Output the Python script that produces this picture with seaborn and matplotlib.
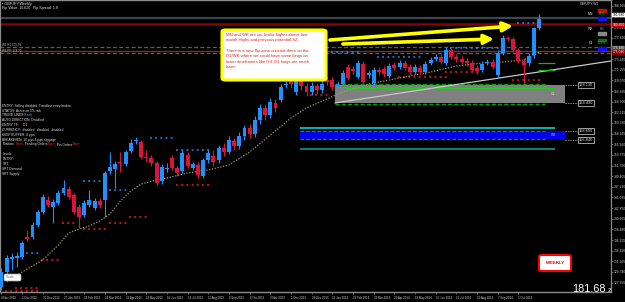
import numpy as np
import pandas as pd
import seaborn as sns
import matplotlib
matplotlib.use("Agg")
import matplotlib.pyplot as plt
from matplotlib.patches import Rectangle, FancyBboxPatch

# ---------------- data (GBPJPY weekly) ----------------
opens = [126.66, 129.74, 132.41, 132.61, 132.82, 136.92, 136.92, 139.39, 142.06, 144.52,
         143.08, 143.90, 145.96, 146.78, 145.55, 143.08, 141.44, 143.49, 142.88, 144.31,
         144.52, 150.47, 150.88, 152.32, 151.91, 154.58, 156.63, 156.43, 153.35, 153.14,
         152.12, 148.42, 150.88, 153.14, 151.09, 150.47, 153.76, 151.09, 151.71, 149.45,
         152.73, 153.55, 152.73, 155.20, 154.37, 156.63, 155.61, 157.66, 159.30, 158.07,
         160.94, 163.41, 161.97, 164.43, 165.05, 168.13, 168.75, 166.69, 169.16, 167.92,
         166.69, 167.92, 167.10, 169.16, 169.16, 168.13, 168.33, 171.82, 171.41, 169.77,
         172.44, 170.18, 168.54, 171.21, 171.41, 169.98, 172.24, 171.82, 172.65, 171.82,
         170.80, 171.62, 170.80, 172.65, 173.47, 173.88, 172.65, 175.31, 173.88, 173.47,
         173.06, 172.65, 171.62, 171.21, 172.65, 172.85, 170.18, 174.70, 177.78, 177.57,
         175.31, 173.06, 172.65, 174.29, 179.83]
highs = [130.56, 133.23, 133.64, 133.84, 136.10, 138.36, 140.00, 142.47, 145.75, 145.34,
         144.72, 146.57, 148.63, 147.39, 145.96, 143.70, 144.52, 146.57, 144.93, 144.93,
         150.47, 154.37, 152.53, 154.37, 154.78, 157.04, 157.45, 156.84, 154.78, 153.76,
         152.53, 151.91, 152.12, 153.76, 151.50, 154.78, 154.37, 152.32, 152.32, 153.14,
         154.78, 154.78, 155.81, 156.22, 157.66, 157.25, 158.48, 159.92, 160.12, 161.77,
         164.23, 164.23, 165.46, 165.26, 168.33, 168.95, 169.36, 169.77, 169.98, 168.54,
         168.75, 168.54, 169.16, 169.77, 169.77, 168.95, 171.21, 172.44, 172.03, 173.26,
         173.06, 171.21, 171.82, 171.82, 172.03, 172.65, 172.85, 173.26, 173.26, 172.44,
         172.44, 172.24, 173.06, 173.88, 174.49, 174.49, 175.93, 175.93, 174.49, 174.08,
         173.67, 173.26, 172.24, 173.06, 173.47, 173.47, 175.31, 178.39, 178.19, 177.98,
         175.73, 173.67, 174.70, 180.04, 182.71]
lows = [126.04, 129.12, 130.15, 130.76, 132.41, 136.10, 136.51, 138.98, 141.65, 143.08,
        139.80, 143.49, 145.55, 144.72, 141.65, 138.77, 141.03, 143.08, 142.47, 142.88,
        141.03, 149.86, 146.98, 150.27, 151.50, 154.17, 156.02, 152.94, 152.32, 151.50,
        147.60, 147.80, 150.27, 150.68, 149.45, 150.06, 151.09, 150.68, 149.04, 149.04,
        152.12, 151.50, 152.12, 153.55, 153.96, 154.78, 154.99, 156.84, 157.25, 157.45,
        160.12, 160.94, 161.35, 162.59, 164.64, 167.51, 167.51, 166.08, 167.10, 165.87,
        166.08, 166.28, 166.49, 168.13, 167.10, 167.51, 167.92, 169.16, 170.39, 169.36,
        168.33, 169.57, 168.13, 170.18, 169.77, 169.57, 171.21, 171.41, 171.21, 170.39,
        170.39, 170.39, 170.39, 172.24, 173.06, 172.44, 172.24, 173.47, 172.85, 172.44,
        172.03, 170.80, 170.39, 170.80, 172.24, 171.41, 169.57, 174.29, 177.16, 174.90,
        172.65, 168.54, 172.03, 173.67, 179.42]
closes = [129.74, 132.61, 132.82, 133.02, 135.69, 136.51, 139.39, 142.06, 145.14, 143.49,
          144.11, 145.96, 146.98, 145.14, 142.06, 141.03, 143.90, 144.52, 144.31, 143.49,
          150.06, 151.29, 151.91, 152.12, 154.37, 156.22, 156.84, 153.35, 153.14, 152.12,
          148.01, 151.29, 151.09, 151.09, 150.06, 154.17, 151.50, 151.91, 149.65, 152.73,
          154.17, 152.32, 155.20, 154.37, 156.84, 155.61, 157.66, 159.30, 158.07, 160.94,
          163.41, 161.97, 164.64, 163.41, 167.72, 168.33, 168.33, 169.16, 167.92, 166.69,
          167.92, 167.10, 168.33, 168.75, 167.72, 168.33, 170.59, 169.57, 171.00, 172.65,
          168.75, 170.59, 171.21, 170.80, 170.39, 172.03, 171.62, 172.65, 171.62, 170.80,
          171.82, 170.80, 172.44, 173.26, 173.88, 172.85, 175.31, 173.88, 173.47, 172.85,
          172.65, 171.21, 171.00, 172.44, 172.85, 171.82, 174.70, 177.78, 177.57, 175.31,
          173.06, 172.24, 174.08, 179.83, 181.68]

ma_idx = [1, 4, 8, 11, 13, 15, 17, 19, 21, 23, 25, 27, 30, 32, 36, 40, 44, 48, 52, 56,
          59, 62, 66, 71, 77, 83, 88, 93, 97, 101, 104]
ma_val = [127.68, 129.74, 132.20, 135.28, 137.75, 138.57, 139.18, 140.21, 141.65, 144.31,
          146.37, 147.80, 148.63, 149.04, 150.06, 150.68, 151.71, 154.37, 157.86, 161.35,
          163.41, 164.84, 166.69, 168.33, 169.57, 170.80, 172.03, 172.65, 172.85, 173.26, 174.90]

# support / resistance dotted marks: (start candle, end candle, price)
red_marks = [(1, 7, 125.80), (3, 7, 126.45), (8, 11, 132.20), (12, 14, 139.80), (16, 20, 138.57),
             (21, 24, 139.80), (25, 28, 141.03), (34, 40, 147.60), (60, 63, 166.08),
             (77, 86, 169.77), (86, 92, 170.80), (99, 104, 169.16)]
blue_marks = [(5, 7, 133.64), (16, 19, 148.42), (21, 24, 146.57), (29, 33, 157.25),
              (34, 40, 154.78), (64, 69, 174.90), (73, 81, 173.88), (87, 96, 175.73),
              (100, 103, 180.86)]

# horizontal levels across the chart
level_bid_dark = 181.90
level_red_main = 180.65
level_gray_dash = [175.93, 174.70]
level_red_thin = 175.01

# zones
gray_zone = (64.5, 109.0, 164.43, 168.13)
gray_zone_edges = [168.33, 164.23]
gray_zone_mid = 167.51
blue_zone = (57.7, 109.0, 157.04, 158.69)
cyan_level = 159.30
teal_level = 154.99
trend_pts = ((64.5, 164.43), (117.9, 173.06))
green_short = [172.65, 171.21]
zone_labels = [168.130, 164.430, 158.690, 156.840]

date_idx = list(range(0, 101, 4))
date_labels = ["4 Nov 2012", "2 Dec 2012", "30 Dec 2012", "27 Jan 2013", "24 Feb 2013",
               "24 Mar 2013", "21 Apr 2013", "19 May 2013", "16 Jun 2013", "14 Jul 2013",
               "11 Aug 2013", "8 Sep 2013", "6 Oct 2013", "3 Nov 2013", "1 Dec 2013",
               "29 Dec 2013", "26 Jan 2014", "23 Feb 2014", "23 Mar 2014", "20 Apr 2014",
               "18 May 2014", "15 Jun 2014", "13 Jul 2014", "10 Aug 2014", "7 Sep 2014",
               "5 Oct 2014"]
price_ticks = [184.365, 182.180, 179.995, 177.810, 175.625, 173.440, 171.255, 169.070,
               166.885, 164.700, 162.515, 160.330, 158.145, 155.960, 153.775, 151.590,
               149.405, 147.220, 145.035, 142.850, 140.665, 138.480, 136.295, 134.110,
               131.925, 129.740, 127.555]

note_text = ("MN and WK are up, broke higher above last\n"
             "month Highs and previous potential SZ.\n\n"
             "There is a new flip zone created there on the\n"
             "D1/WK where we could have some longs on\n"
             "lower timeframes like H4. D1 longs are much\n"
             "lower")

# ---------------- figure ----------------
sns.set_theme(style="dark")
plt.rcParams['font.family'] = ['Liberation Sans', 'DejaVu Sans']

W, H = 625, 302
AXW, AXH = 611, 292
fig = plt.figure(figsize=(W / 100, H / 100), dpi=100, facecolor='black')
ax = fig.add_axes([0, (H - AXH) / H, AXW / W, AXH / H])
ax.set_facecolor('black')
ax.grid(False)
ax.set_xlim(-0.29, 117.9)
ax.set_ylim(125.63, 185.58)

BLUE = '#1e90ff'
RED = '#dc143c'

df = pd.DataFrame({'o': opens, 'h': highs, 'l': lows, 'c': closes})
df['i'] = np.arange(len(df))
df['up'] = df['c'] >= df['o']
cols = np.where(df['up'], BLUE, RED)

# full-width levels
ax.axhline(level_bid_dark, color='#3a4650', lw=1.6, zorder=1)
ax.axhline(level_red_main, color='#8b0000', lw=1.8, zorder=1)
for lv in level_gray_dash:
    ax.axhline(lv, color='#5a6068', lw=0.9, ls=(0, (3, 2)), zorder=1)
ax.axhline(level_red_thin, color='#b01818', lw=0.9, zorder=1)

# zones
gx0, gx1, gy0, gy1 = gray_zone
ax.add_patch(Rectangle((gx0, gy0), gx1 - gx0, gy1 - gy0, color='#808080', lw=0, zorder=1))
for lv in gray_zone_edges:
    ax.hlines(lv, gx0, 105.2, colors='#00a000', lw=1.0, ls=(0, (3, 1.5)), zorder=2)
ax.hlines(gray_zone_mid, 66.4, 107.1, colors='#22cc22', lw=0.8, zorder=2)
bx0, bx1, by0, by1 = blue_zone
ax.add_patch(Rectangle((bx0, by0), bx1 - bx0, by1 - by0, color='#0000ee', lw=0, zorder=1))
for lv in (by0, by1):
    ax.hlines(lv, bx0, 105.2, colors='#00a000', lw=0.9, ls=(0, (3, 1.5)), zorder=2)
ax.hlines(cyan_level, bx0, 107.1, colors='#00e5ee', lw=1.1, zorder=2)
ax.hlines(teal_level, bx0, 107.1, colors='#1aa0a0', lw=1.1, zorder=2)
ax.text(106.2, (gy0 + gy1) / 2, 'D1', color='#d8d8d8', fontsize=2.4, va='center', zorder=3)
ax.text(106.2, (by0 + by1) / 2, 'W1', color='#c0c0ff', fontsize=2.4, va='center', zorder=3)

# label boxes to the right of zones
for lv in zone_labels:
    ax.hlines(lv, 109.0, 111.6, colors='#c0c0c0', lw=0.5, ls=(0, (2, 1.5)), zorder=2)
    ax.text(111.7, lv, f"{lv:.3f}", color='#e0e0e0', fontsize=2.8, va='center', ha='left',
            bbox=dict(boxstyle='square,pad=0.15', fc='black', ec='#e0e0e0', lw=0.5), zorder=4)

# trend line
(tx0, ty0), (tx1, ty1) = trend_pts
ax.plot([tx0, tx1], [ty0, ty1], color='#c8c8c8', lw=0.9, zorder=2)
ax.hlines(green_short, 103.8, 107.1, colors='#1faf1f', lw=0.9, zorder=2)

# S/R dotted marks
for s, e, p in red_marks:
    ax.hlines(p, s - 0.3, e + 0.3, colors='#ff1a1a', lw=1.1, ls=(0, (1.2, 2.2)), zorder=2)
for s, e, p in blue_marks:
    ax.hlines(p, s - 0.3, e + 0.3, colors=BLUE, lw=1.1, ls=(0, (1.2, 2.2)), zorder=2)

# moving average
sns.lineplot(x=ma_idx, y=ma_val, ax=ax, color='#9c9c6a', lw=0.9,
             linestyle=(0, (1, 1.3)), zorder=3)

# candles
ax.vlines(df['i'], df['l'], df['h'], colors=cols, lw=0.8, zorder=4)
body_lo = np.minimum(df['o'], df['c'])
body_h = np.maximum(np.abs(df['c'] - df['o']), 0.25)
ax.bar(df['i'], body_h, bottom=body_lo, width=0.76, color=cols, lw=0, zorder=5)

# ---------------- pixel-space helpers for annotations ----------------
def fx(x):
    return x / AXW


def fy(y):
    return 1 - y / AXH


def ptext(x, y, s, **kw):
    kw.setdefault('va', 'center')
    kw.setdefault('ha', 'left')
    kw.setdefault('zorder', 8)
    ax.text(fx(x), fy(y), s, transform=ax.transAxes, clip_on=False, **kw)


def prect(x0, y0, x1, y1, **kw):
    ax.add_patch(Rectangle((fx(x0), fy(y1)), (x1 - x0) / AXW, (y1 - y0) / AXH,
                           transform=ax.transAxes, clip_on=False, zorder=8, **kw))

# yellow note box
ax.add_patch(FancyBboxPatch((fx(222), fy(80)), 104 / AXW, 50 / AXH,
                            boxstyle='round,pad=0,rounding_size=0.006',
                            transform=ax.transAxes, fc='white', ec='#ffff00', lw=2.2, zorder=9))
ax.text(fx(226), fy(33), note_text, transform=ax.transAxes, va='top', ha='left',
        color='#e02020', fontsize=3.1, linespacing=1.45, zorder=10)

# yellow arrows
for (x0, y0), (x1, y1) in [((330, 40), (513, 26)), ((343, 44), (494, 39))]:
    ax.annotate('', xy=(fx(x1), fy(y1)), xytext=(fx(x0), fy(y0)),
                xycoords='axes fraction', textcoords='axes fraction',
                arrowprops=dict(arrowstyle='-|>,head_length=0.7,head_width=0.35',
                                color='#ffff00', lw=2.6, mutation_scale=8,
                                shrinkA=0, shrinkB=0), zorder=9)

# top-left info
ptext(2, 3.5, '\u25aa GBPJPY,Weekly', color='#e8e8e8', fontsize=2.7)
ptext(2, 8, 'Pip Value: 10.620', color='#e8e8e8', fontsize=2.6)
ptext(33, 8, 'Pip Spread: 1.8', color='#e8e8e8', fontsize=2.6)
ptext(2, 45, 'W1 R1 175.93', color='#c8c8c8', fontsize=2.2)
ptext(2, 51, 'W1 PP 174.70', color='#c8c8c8', fontsize=2.2)

# left info block
info_lines = [
    (106, 'ENTRY: Selling disabled, Trendline entry broken.'),
    (111, 'STATUS: Active on 5% risk'),
    (115, 'TREND LINES:'),
    (120, 'AUTO DIRECTION: Disabled'),
    (125, 'ENTRY TF:     D1'),
    (130, 'CURRENCY:  disabled   disabled   disabled'),
    (135, 'KEEP BUFFER: 4 pips'),
    (140, 'BREAKEVEN: 10 pips 4 pips slippage'),
    (154, 'Levels:'),
    (159, 'ENTRY:'),
    (164, 'SRT:'),
    (169, 'SRT Demand:'),
    (174, 'SRT Supply:'),
]
for y, s in info_lines:
    ptext(2.5, y, s, color='#e0e0e0', fontsize=2.3)
ptext(24, 115, 'Green', color='#2ec8ff', fontsize=2.3)
ptext(2.5, 144.5, 'Position:', color='#e0e0e0', fontsize=2.3)
ptext(16, 144.5, 'None', color='#ff2020', fontsize=2.3)
ptext(23, 144.5, ', Pending Orders:', color='#e0e0e0', fontsize=2.3)
ptext(48, 144.5, 'None', color='#ff2020', fontsize=2.3)
ptext(55, 144.5, ', Pin Orders:', color='#e0e0e0', fontsize=2.3)
ptext(73, 144.5, 'None', color='#ff2020', fontsize=2.3)

# strength meter top right
prect(598, 9, 606, 11.5, color='#c01010')
prect(598, 17, 606, 19.5, color='#1010ff')
prect(598, 32, 606, 34.5, color='#8a8a8a')
prect(598, 38.5, 606, 41, color='#107010')
prect(598, 47, 606, 49.5, color='#1010ff')
ptext(588, 14, 'MN', color='#e0e0e0', fontsize=2.5)
ptext(599, 14, '61%', color='#20d020', fontsize=2.5)
ptext(588, 29, 'WK', color='#e0e0e0', fontsize=2.5)
ptext(600, 29, '0%', color='#20d0d0', fontsize=2.5)
ptext(589, 43, 'D1', color='#e0e0e0', fontsize=2.5)
ptext(598, 43, '-51%', color='#20d020', fontsize=2.5)
ptext(580, 3.5, 'GBPJPY,W1', color='#d0d0d0', fontsize=2.5)

# right-axis highlighted price boxes
for y, s, fc, tc in [(14.5, '181.680', 'white', 'black'), (24.5, '180.650', '#cc0000', 'white'),
                     (48, '175.930', '#505050', 'white'), (52, '175.010', '#8b0000', 'white')]:
    prect(612, y - 1.8, 625, y + 1.8, color=fc)
    ptext(613, y, s, color=tc, fontsize=2.4)

# Scale box, WEEKLY box, big price
ax.add_patch(FancyBboxPatch((fx(4), fy(281)), 17 / AXW, 7 / AXH,
                            boxstyle='round,pad=0,rounding_size=0.003',
                            transform=ax.transAxes, fc='white', ec='#a0a0a0', lw=0.5, zorder=9))
ptext(6, 277.5, 'Scale', color='#707070', fontsize=2.6, zorder=10)
ax.add_patch(FancyBboxPatch((fx(539), fy(271)), 32 / AXW, 16 / AXH,
                            boxstyle='round,pad=0,rounding_size=0.005',
                            transform=ax.transAxes, fc='white', ec='#ff0000', lw=1.5, zorder=9))
ptext(555, 263, 'WEEKLY', color='#e00000', fontsize=3.2, fontweight='bold', ha='center', zorder=10)
ptext(572, 288.5, '181.68', color='white', fontsize=7.8, zorder=10)
ptext(607.5, 290, '2', color='white', fontsize=4.5, zorder=10)

# axes styling
ax.set_xticks(date_idx)
ax.set_xticklabels(date_labels[:len(date_idx)], fontsize=2.1, color='#d8d8d8', ha='left')
ax.tick_params(axis='x', length=1.5, width=0.4, color='#a0a0a0', pad=1.2, bottom=True)
ax.yaxis.tick_right()
ax.set_yticks(price_ticks)
ax.set_yticklabels([f"{t:.3f}" for t in price_ticks], fontsize=2.4, color='#c8c8c8')
ax.tick_params(axis='y', length=1.5, width=0.4, color='#a0a0a0', pad=0.8, right=True, left=False)
ax.set_xlabel('')
ax.set_ylabel('')
for side, lw in [('left', 1.6), ('top', 1.0), ('bottom', 1.0), ('right', 0.9)]:
    ax.spines[side].set_visible(True)
    ax.spines[side].set_color('#8a8a8a')
    ax.spines[side].set_linewidth(lw)

fig.savefig('out.png', dpi=100, facecolor='black')
